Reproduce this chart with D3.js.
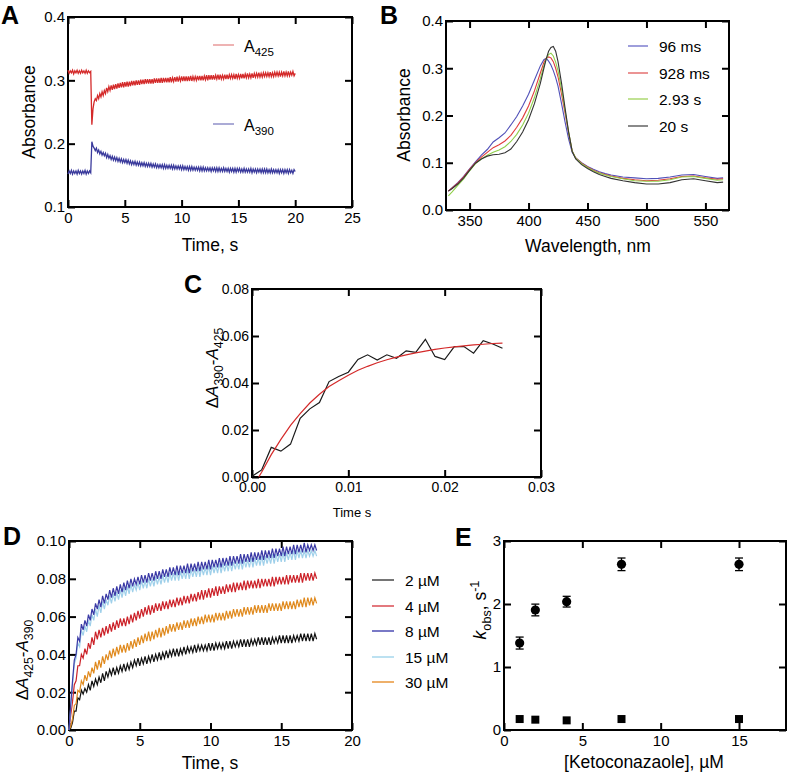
<!DOCTYPE html>
<html><head><meta charset="utf-8">
<script src="https://cdn.jsdelivr.net/npm/d3@7"></script>
<style>
body{margin:0;background:#fff}
svg{display:block}
text{font-family:"Liberation Sans",Arial,Helvetica,sans-serif;fill:#000}
</style>
</head><body>
<svg id="c" width="788" height="781"></svg>
<script>
// ---------------- DATA ----------------
// Panel A: absorbance traces, sampled every 0.1 s from 0 to 20 s
const timeA = d3.range(201).map(i => +(i * 0.1).toFixed(1));
const a425 = [
  0.316,0.311,0.315,0.312,0.316,0.310,0.315,0.312,0.316,0.311,0.315,0.311,0.316,0.312,0.315,0.311,0.316,0.311,0.315,0.312,0.314,
  0.230,0.255,0.266,
  0.271,0.268,0.276,0.271,0.279,0.274,0.282,0.276,0.284,0.279,
  0.288,0.282,0.290,0.284,0.292,0.285,0.293,0.286,0.294,0.287,
  0.295,0.288,0.296,0.289,0.297,0.289,0.297,0.290,0.298,0.290,
  0.298,0.291,0.299,0.292,0.299,0.292,0.300,0.293,0.300,0.293,
  0.301,0.294,0.301,0.294,0.302,0.295,0.302,0.295,0.302,0.295,
  0.302,0.295,0.303,0.296,0.303,0.296,0.303,0.296,0.304,0.296,
  0.304,0.297,0.304,0.297,0.304,0.297,0.305,0.297,0.304,0.298,
  0.305,0.298,0.306,0.298,0.305,0.299,0.306,0.299,0.306,0.299,
  0.306,0.299,0.306,0.299,0.307,0.299,0.306,0.300,0.306,0.300,
  0.307,0.300,0.307,0.300,0.307,0.300,0.307,0.301,0.308,0.300,
  0.308,0.301,0.308,0.301,0.308,0.301,0.308,0.302,0.309,0.301,
  0.309,0.302,0.308,0.302,0.309,0.302,0.309,0.302,0.309,0.303,
  0.309,0.303,0.309,0.302,0.310,0.303,0.309,0.303,0.310,0.303,
  0.310,0.303,0.310,0.304,0.311,0.304,0.310,0.304,0.311,0.304,
  0.311,0.305,0.311,0.305,0.312,0.305,0.311,0.305,0.312,0.306,
  0.312,0.306,0.312,0.306,0.313,0.306,0.312,0.306,0.313,0.307,
  0.313,0.307,0.313,0.306,0.313,0.307,0.314,0.307,0.313,0.307,
  0.314,0.307,0.313,0.308,0.314,0.307,0.311];
const a390 = [
  0.152,0.157,0.153,0.158,0.152,0.157,0.153,0.157,0.152,0.158,0.153,0.157,0.152,0.157,0.153,0.158,0.152,0.157,0.153,0.157,0.154,
  0.203,0.196,0.193,
  0.189,0.193,0.186,0.190,0.184,0.188,0.182,0.186,0.181,0.185,
  0.178,0.183,0.177,0.181,0.175,0.180,0.174,0.179,0.173,0.178,
  0.172,0.177,0.171,0.176,0.170,0.175,0.170,0.175,0.169,0.174,
  0.168,0.173,0.167,0.172,0.167,0.172,0.166,0.171,0.166,0.171,
  0.165,0.170,0.165,0.170,0.164,0.169,0.164,0.169,0.164,0.169,
  0.163,0.168,0.163,0.168,0.162,0.167,0.162,0.167,0.162,0.167,
  0.161,0.167,0.161,0.166,0.161,0.166,0.161,0.166,0.160,0.166,
  0.160,0.165,0.160,0.165,0.160,0.165,0.159,0.165,0.159,0.164,
  0.159,0.164,0.158,0.164,0.158,0.164,0.158,0.163,0.158,0.163,
  0.158,0.163,0.157,0.163,0.157,0.163,0.157,0.162,0.157,0.162,
  0.157,0.162,0.156,0.162,0.157,0.162,0.156,0.162,0.156,0.162,
  0.156,0.161,0.156,0.162,0.156,0.161,0.156,0.161,0.155,0.161,
  0.156,0.161,0.155,0.161,0.155,0.161,0.156,0.161,0.155,0.160,
  0.155,0.161,0.155,0.160,0.155,0.160,0.155,0.161,0.154,0.160,
  0.155,0.160,0.154,0.160,0.155,0.160,0.154,0.160,0.154,0.160,
  0.154,0.160,0.154,0.159,0.154,0.160,0.154,0.159,0.154,0.159,
  0.154,0.159,0.153,0.159,0.154,0.159,0.153,0.159,0.154,0.159,
  0.153,0.159,0.154,0.158,0.153,0.159,0.156];
const legendA = ["425", "390"];

// Panel B: spectra
const wavelength = [332,335,340,345,350,355,360,365,370,375,380,385,390,395,400,405,410,413,415,417,419,421,423,425,428,431,434,437,440,445,450,455,460,465,470,480,490,500,510,520,530,540,550,560,565];
const spec96ms = [0.040,0.047,0.058,0.071,0.087,0.102,0.116,0.128,0.144,0.153,0.163,0.180,0.198,0.220,0.245,0.275,0.305,0.318,0.321,0.315,0.307,0.295,0.280,0.262,0.225,0.186,0.150,0.122,0.110,0.100,0.092,0.086,0.081,0.077,0.074,0.070,0.068,0.066,0.067,0.070,0.074,0.075,0.071,0.067,0.068];
const spec928ms = [0.040,0.046,0.057,0.070,0.086,0.100,0.112,0.122,0.132,0.138,0.146,0.158,0.175,0.195,0.220,0.252,0.290,0.312,0.321,0.324,0.322,0.314,0.300,0.282,0.245,0.205,0.163,0.125,0.110,0.099,0.091,0.084,0.079,0.075,0.072,0.067,0.064,0.062,0.063,0.066,0.071,0.072,0.068,0.065,0.066];
const spec293s = [0.030,0.038,0.052,0.066,0.083,0.098,0.108,0.116,0.122,0.127,0.134,0.145,0.160,0.180,0.205,0.238,0.278,0.305,0.320,0.329,0.332,0.326,0.313,0.295,0.256,0.210,0.165,0.125,0.110,0.098,0.090,0.083,0.078,0.074,0.071,0.066,0.062,0.061,0.061,0.064,0.070,0.071,0.067,0.063,0.064];
const spec20s = [0.040,0.045,0.055,0.068,0.084,0.099,0.108,0.114,0.117,0.118,0.121,0.129,0.145,0.165,0.191,0.225,0.268,0.300,0.320,0.336,0.344,0.346,0.336,0.314,0.268,0.215,0.165,0.124,0.108,0.096,0.088,0.081,0.075,0.071,0.067,0.062,0.058,0.055,0.055,0.058,0.064,0.066,0.062,0.058,0.059];
const legendB = ["96 ms", "928 ms", "2.93 s", "20 s"];

// Panel C: difference trace (every 1 ms) and exponential fit
const timeC = d3.range(27).map(i => +(i * 0.001).toFixed(3));
const diffC = [0.0003,0.003,0.0126,0.011,0.014,0.025,0.029,0.0317,0.0406,0.0428,0.0446,0.050,0.052,0.0498,0.052,0.0505,0.0537,0.053,0.0586,0.0513,0.050,0.0555,0.0555,0.0527,0.058,0.0566,0.0548];
const fitTimeC = [0.0007].concat(d3.range(1, 27).map(i => +(i * 0.001).toFixed(3)));
const fitC = [0,0.002,0.0095,0.016,0.022,0.027,0.0315,0.0352,0.0385,0.041,0.0433,0.0454,0.0471,0.0486,0.0499,0.051,0.052,0.0528,0.0536,0.0543,0.0549,0.0554,0.0558,0.0562,0.0565,0.0568,0.057];

// Panel D: traces at several concentrations, every 0.125 s from 0 to 17.5 s
const timeD = d3.range(141).map(i => i * 0.125);
const d2uM = [0,
  0.001,0.004,0.010,0.010,0.017,0.016,0.021,0.019,
  0.022,0.020,0.024,0.021,0.026,0.023,0.027,0.024,
  0.028,0.025,0.030,0.026,0.031,0.028,0.032,0.029,
  0.033,0.029,0.033,0.030,0.034,0.031,0.035,0.031,
  0.035,0.032,0.036,0.033,0.037,0.034,0.038,0.034,
  0.038,0.035,0.039,0.035,0.039,0.036,0.040,0.036,
  0.040,0.037,0.041,0.037,0.041,0.038,0.042,0.038,
  0.042,0.039,0.043,0.039,0.043,0.039,0.043,0.040,
  0.044,0.040,0.044,0.041,0.044,0.041,0.045,0.041,
  0.045,0.042,0.045,0.042,0.045,0.042,0.046,0.042,
  0.046,0.042,0.046,0.043,0.046,0.043,0.046,0.043,
  0.047,0.043,0.047,0.043,0.047,0.044,0.047,0.044,
  0.048,0.044,0.048,0.044,0.048,0.044,0.048,0.045,
  0.048,0.045,0.049,0.045,0.049,0.045,0.049,0.045,
  0.049,0.045,0.049,0.046,0.049,0.046,0.050,0.046,
  0.050,0.046,0.050,0.046,0.050,0.046,0.050,0.047,
  0.050,0.047,0.051,0.047,0.051,0.047,0.051,0.047,
  0.051,0.047,0.051,0.048];
const d4uM = [0,
  0.008,0.015,0.024,0.026,0.034,0.034,0.040,0.038,
  0.043,0.040,0.046,0.043,0.049,0.045,0.052,0.048,
  0.053,0.049,0.054,0.050,0.055,0.051,0.056,0.052,
  0.057,0.053,0.058,0.054,0.059,0.055,0.059,0.055,
  0.060,0.056,0.061,0.057,0.062,0.058,0.063,0.059,
  0.064,0.060,0.065,0.061,0.066,0.061,0.066,0.062,
  0.067,0.063,0.067,0.063,0.068,0.064,0.068,0.064,
  0.069,0.065,0.069,0.065,0.070,0.066,0.070,0.066,
  0.071,0.067,0.071,0.067,0.072,0.068,0.072,0.068,
  0.073,0.069,0.074,0.069,0.074,0.070,0.075,0.070,
  0.075,0.071,0.076,0.071,0.076,0.072,0.076,0.072,
  0.077,0.073,0.077,0.073,0.078,0.073,0.078,0.074,
  0.078,0.074,0.079,0.074,0.079,0.075,0.079,0.075,
  0.079,0.075,0.080,0.075,0.080,0.076,0.080,0.076,
  0.080,0.076,0.081,0.076,0.081,0.077,0.081,0.077,
  0.081,0.077,0.082,0.077,0.082,0.078,0.082,0.078,
  0.082,0.078,0.083,0.078,0.083,0.079,0.083,0.079,
  0.083,0.079,0.083,0.080];
const d8uM = [0,
  0.014,0.026,0.037,0.040,0.049,0.047,0.056,0.053,
  0.058,0.055,0.061,0.058,0.064,0.061,0.067,0.064,
  0.069,0.065,0.071,0.067,0.072,0.069,0.074,0.070,
  0.075,0.071,0.076,0.072,0.077,0.073,0.078,0.074,
  0.079,0.075,0.080,0.076,0.080,0.077,0.081,0.077,
  0.082,0.078,0.082,0.078,0.083,0.079,0.083,0.079,
  0.084,0.080,0.084,0.080,0.085,0.081,0.085,0.081,
  0.086,0.082,0.086,0.082,0.087,0.082,0.087,0.083,
  0.087,0.083,0.088,0.083,0.088,0.084,0.088,0.084,
  0.089,0.084,0.089,0.085,0.089,0.085,0.090,0.085,
  0.090,0.086,0.090,0.086,0.091,0.086,0.091,0.087,
  0.091,0.087,0.092,0.087,0.092,0.088,0.092,0.088,
  0.093,0.088,0.093,0.089,0.093,0.089,0.094,0.089,
  0.094,0.090,0.094,0.090,0.095,0.090,0.095,0.091,
  0.095,0.091,0.096,0.091,0.096,0.092,0.096,0.092,
  0.097,0.092,0.097,0.093,0.097,0.093,0.098,0.093,
  0.098,0.094,0.098,0.094,0.099,0.094,0.098,0.095,
  0.098,0.095,0.098,0.095];
const d15uM = [0,
  0.012,0.024,0.035,0.038,0.046,0.044,0.053,0.050,
  0.055,0.052,0.058,0.055,0.061,0.058,0.064,0.060,
  0.066,0.062,0.068,0.064,0.069,0.066,0.071,0.067,
  0.072,0.068,0.073,0.069,0.074,0.070,0.075,0.071,
  0.076,0.072,0.077,0.073,0.077,0.074,0.078,0.074,
  0.079,0.075,0.079,0.075,0.080,0.076,0.080,0.076,
  0.081,0.077,0.081,0.077,0.082,0.078,0.082,0.078,
  0.083,0.079,0.083,0.079,0.084,0.079,0.084,0.080,
  0.084,0.080,0.085,0.080,0.085,0.081,0.085,0.081,
  0.086,0.081,0.086,0.082,0.086,0.082,0.087,0.082,
  0.087,0.083,0.087,0.083,0.088,0.083,0.088,0.084,
  0.088,0.084,0.089,0.084,0.089,0.085,0.089,0.085,
  0.090,0.085,0.090,0.086,0.090,0.086,0.091,0.086,
  0.091,0.087,0.091,0.087,0.092,0.087,0.092,0.088,
  0.092,0.088,0.093,0.088,0.093,0.089,0.093,0.089,
  0.094,0.089,0.094,0.090,0.094,0.090,0.095,0.090,
  0.095,0.091,0.095,0.091,0.095,0.091,0.095,0.092,
  0.095,0.092,0.095,0.092];
const d30uM = [0,
  0.002,0.006,0.013,0.014,0.021,0.020,0.026,0.024,
  0.029,0.026,0.031,0.028,0.033,0.030,0.036,0.032,
  0.037,0.033,0.039,0.035,0.040,0.037,0.042,0.038,
  0.043,0.039,0.044,0.040,0.045,0.041,0.045,0.041,
  0.046,0.042,0.047,0.043,0.048,0.044,0.049,0.045,
  0.050,0.046,0.051,0.047,0.052,0.047,0.052,0.048,
  0.053,0.049,0.054,0.049,0.054,0.050,0.055,0.051,
  0.056,0.052,0.056,0.052,0.057,0.053,0.057,0.053,
  0.058,0.054,0.058,0.054,0.059,0.055,0.059,0.055,
  0.060,0.056,0.060,0.056,0.061,0.057,0.061,0.057,
  0.061,0.057,0.062,0.058,0.062,0.058,0.062,0.058,
  0.063,0.059,0.063,0.059,0.064,0.060,0.064,0.060,
  0.064,0.060,0.065,0.061,0.065,0.061,0.065,0.061,
  0.066,0.062,0.066,0.062,0.066,0.062,0.066,0.062,
  0.067,0.063,0.067,0.063,0.067,0.063,0.067,0.063,
  0.068,0.064,0.068,0.064,0.068,0.064,0.068,0.064,
  0.069,0.065,0.069,0.065,0.070,0.065,0.070,0.066,
  0.070,0.066,0.070,0.067];
const legendD = ["2 µM", "4 µM", "8 µM", "15 µM", "30 µM"];

// Panel E: observed rate constants
const ketoConc = [1, 2, 4, 7.5, 15];
const kFast = [1.38, 1.905, 2.037, 2.63, 2.63];
const kFastErr = [0.095, 0.093, 0.085, 0.1, 0.1];
const kSlow = [0.174, 0.164, 0.153, 0.174, 0.174];

// ---------------- DRAWING ----------------
const svg = d3.select("#c");
const TK = 7;

function rich(sel, parts, size) {
  let shift = 0;
  parts.forEach(p => {
    const target = p.sub ? size * 0.28 : (p.sup ? -size * 0.4 : 0);
    const ts = sel.append("tspan").text(p.t).attr("dy", target - shift);
    shift = target;
    if (p.sub || p.sup) ts.attr("font-size", size * 0.72);
    if (p.i) ts.attr("font-style", "italic");
  });
}

function panel(o) {
  const x = d3.scaleLinear().domain(o.xd).range([o.l, o.r]);
  const y = d3.scaleLinear().domain(o.yd).range([o.b, o.t]);
  const g = svg.append("g");
  const fs = o.fs || 15;
  const style = sel => {
    sel.select(".domain").remove();
    sel.selectAll(".tick line").attr("stroke", "#000").attr("stroke-width", 2);
    sel.selectAll(".tick text").attr("font-size", fs).attr("fill", "#000")
      .attr("font-family", '"Liberation Sans",Arial,sans-serif');
  };
  g.append("g").attr("transform", `translate(0,${o.b})`)
    .call(d3.axisBottom(x).tickValues(o.xt).tickFormat(o.xf).tickSizeInner(-TK).tickSizeOuter(0).tickPadding(5))
    .call(style);
  g.append("g").attr("transform", `translate(0,${o.t})`)
    .call(d3.axisTop(x).tickValues(o.xt).tickFormat("").tickSizeInner(-TK).tickSizeOuter(0))
    .call(style);
  g.append("g").attr("transform", `translate(${o.l},0)`)
    .call(d3.axisLeft(y).tickValues(o.yt).tickFormat(o.yf).tickSizeInner(-TK).tickSizeOuter(0).tickPadding(3))
    .call(style);
  g.append("g").attr("transform", `translate(${o.r},0)`)
    .call(d3.axisRight(y).tickValues(o.yt).tickFormat("").tickSizeInner(-TK).tickSizeOuter(0))
    .call(style);
  g.append("rect").attr("x", o.l).attr("y", o.t).attr("width", o.r - o.l).attr("height", o.b - o.t)
    .attr("fill", "none").attr("stroke", "#000").attr("stroke-width", 2);
  return {x, y, g};
}

function panelLabel(t, x, y) {
  svg.append("text").attr("x", x).attr("y", y).attr("font-size", 25).attr("font-weight", "bold").text(t);
}

// ---- Panel A ----
{
  const p = panel({l: 68, r: 352, t: 17, b: 207, xd: [0, 25], yd: [0.1, 0.4],
    xt: [0, 5, 10, 15, 20, 25], yt: [0.1, 0.2, 0.3, 0.4], xf: d3.format("d"), yf: d3.format(".1f")});
  const line = d3.line().x((d, i) => p.x(timeA[i])).y(d => p.y(d));
  p.g.append("path").datum(a425).attr("d", line).attr("fill", "none").attr("stroke", "#d42a2a").attr("stroke-width", 1.3);
  p.g.append("path").datum(a390).attr("d", line).attr("fill", "none").attr("stroke", "#3a3a9c").attr("stroke-width", 1.3);
  const legCol = ["#e89a9a", "#8f8fc8"];
  const legY = [45, 124];
  legendA.forEach((s, i) => {
    svg.append("line").attr("x1", 213).attr("x2", 234).attr("y1", legY[i]).attr("y2", legY[i])
      .attr("stroke", legCol[i]).attr("stroke-width", 1.5);
    const t = svg.append("text").attr("x", 244).attr("y", legY[i] + 7).attr("font-size", 16);
    rich(t, [{t: "A"}, {t: s, sub: true}], 16);
  });
  svg.append("text").attr("transform", "translate(35,112) rotate(-90)").attr("text-anchor", "middle")
    .attr("font-size", 17.5).text("Absorbance");
  svg.append("text").attr("x", 210).attr("y", 251).attr("text-anchor", "middle").attr("font-size", 17.5).text("Time, s");
  panelLabel("A", 1, 24);
}

// ---- Panel B ----
{
  const p = panel({l: 446, r: 729, t: 21, b: 210, xd: [330, 570], yd: [0, 0.4],
    xt: [350, 400, 450, 500, 550], yt: [0, 0.1, 0.2, 0.3, 0.4], xf: d3.format("d"), yf: d3.format(".1f")});
  const line = d3.line().x((d, i) => p.x(wavelength[i])).y(d => p.y(d));
  const series = [spec96ms, spec928ms, spec293s, spec20s];
  const cols = ["#5050b8", "#e03c3c", "#8fcf4a", "#333333"];
  const legCols = ["#6a6ac8", "#e05a5a", "#9fd35a", "#8a8a8a"];
  series.forEach((s, i) => {
    p.g.append("path").datum(s).attr("d", line).attr("fill", "none").attr("stroke", cols[i]).attr("stroke-width", 1.1);
  });
  const ly = [46, 73, 99, 126];
  legendB.forEach((s, i) => {
    svg.append("line").attr("x1", 628).attr("x2", 648).attr("y1", ly[i]).attr("y2", ly[i])
      .attr("stroke", legCols[i]).attr("stroke-width", i === 3 ? 2 : 1.3);
    svg.append("text").attr("x", 659).attr("y", ly[i] + 5.5).attr("font-size", 15.5).text(s);
  });
  svg.append("text").attr("transform", "translate(410,115) rotate(-90)").attr("text-anchor", "middle")
    .attr("font-size", 17.5).text("Absorbance");
  svg.append("text").attr("x", 588).attr("y", 252).attr("text-anchor", "middle").attr("font-size", 17.5).text("Wavelength, nm");
  panelLabel("B", 380, 24);
}

// ---- Panel C ----
{
  const p = panel({l: 252, r: 541, t: 289, b: 477, xd: [0, 0.03], yd: [0, 0.08],
    xt: [0, 0.01, 0.02, 0.03], yt: [0, 0.02, 0.04, 0.06, 0.08], xf: d3.format(".2f"), yf: d3.format(".2f"), fs: 14});
  const line = d3.line().x((d, i) => p.x(timeC[i])).y(d => p.y(d));
  const fline = d3.line().x((d, i) => p.x(fitTimeC[i])).y(d => p.y(d));
  p.g.append("path").datum(diffC).attr("d", line).attr("fill", "none").attr("stroke", "#1a1a1a").attr("stroke-width", 1.2);
  p.g.append("path").datum(fitC).attr("d", fline).attr("fill", "none").attr("stroke", "#d42a2a").attr("stroke-width", 1.2);
  const t = svg.append("text").attr("transform", "translate(218,368) rotate(-90)").attr("text-anchor", "middle").attr("font-size", 17);
  rich(t, [{t: "Δ"}, {t: "A", i: true}, {t: "390", sub: true}, {t: "-"}, {t: "A", i: true}, {t: "425", sub: true}], 17);
  svg.append("text").attr("x", 352).attr("y", 517).attr("text-anchor", "middle").attr("font-size", 13).text("Time s");
  panelLabel("C", 184, 293);
}

// ---- Panel D ----
{
  const p = panel({l: 69, r: 352, t: 541, b: 730, xd: [0, 20], yd: [0, 0.1],
    xt: [0, 5, 10, 15, 20], yt: [0, 0.02, 0.04, 0.06, 0.08, 0.1], xf: d3.format("d"), yf: d3.format(".2f")});
  const line = d3.line().x((d, i) => p.x(timeD[i])).y(d => p.y(d));
  const series = [d2uM, d4uM, d8uM, d15uM, d30uM];
  const cols = ["#111111", "#cc2229", "#3a3aa6", "#9fd0ea", "#e08a1e"];
  const legCols = ["#666666", "#e06a70", "#6a6ac0", "#b5def0", "#eda85a"];
  const order = [0, 4, 1, 3, 2];
  order.forEach(i => {
    p.g.append("path").datum(series[i]).attr("d", line).attr("fill", "none").attr("stroke", cols[i]).attr("stroke-width", 1.2);
  });
  const ly = [580, 606, 631, 657, 682];
  legendD.forEach((s, i) => {
    svg.append("line").attr("x1", 372).attr("x2", 394).attr("y1", ly[i]).attr("y2", ly[i])
      .attr("stroke", legCols[i]).attr("stroke-width", 1.8);
    svg.append("text").attr("x", 405).attr("y", ly[i] + 6).attr("font-size", 15.5).text(s);
  });
  const t = svg.append("text").attr("transform", "translate(28,660) rotate(-90)").attr("text-anchor", "middle").attr("font-size", 17);
  rich(t, [{t: "Δ"}, {t: "A", i: true}, {t: "425", sub: true}, {t: "-"}, {t: "A", i: true}, {t: "390", sub: true}], 17);
  svg.append("text").attr("x", 210).attr("y", 769).attr("text-anchor", "middle").attr("font-size", 17.5).text("Time, s");
  panelLabel("D", 3, 545);
}

// ---- Panel E ----
{
  const p = panel({l: 504, r: 786, t: 541, b: 730, xd: [0, 18], yd: [0, 3],
    xt: [0, 5, 10, 15], yt: [0, 1, 2, 3], xf: d3.format("d"), yf: d3.format("d")});
  const cap = 4;
  ketoConc.forEach((c, i) => {
    const cx = p.x(c);
    const y1 = p.y(kFast[i] + kFastErr[i]), y0 = p.y(kFast[i] - kFastErr[i]);
    p.g.append("line").attr("x1", cx).attr("x2", cx).attr("y1", y1).attr("y2", y0).attr("stroke", "#000").attr("stroke-width", 1.3);
    p.g.append("line").attr("x1", cx - cap).attr("x2", cx + cap).attr("y1", y1).attr("y2", y1).attr("stroke", "#000").attr("stroke-width", 1.3);
    p.g.append("line").attr("x1", cx - cap).attr("x2", cx + cap).attr("y1", y0).attr("y2", y0).attr("stroke", "#000").attr("stroke-width", 1.3);
    p.g.append("circle").attr("cx", cx).attr("cy", p.y(kFast[i])).attr("r", 4.6).attr("fill", "#000");
    p.g.append("rect").attr("x", cx - 4).attr("y", p.y(kSlow[i]) - 4).attr("width", 8).attr("height", 8).attr("fill", "#000");
  });
  const t = svg.append("text").attr("transform", "translate(486,610) rotate(-90)").attr("text-anchor", "middle").attr("font-size", 17.5);
  rich(t, [{t: "k", i: true}, {t: "obs", sub: true}, {t: ", s"}, {t: "-1", sup: true}], 17.5);
  svg.append("text").attr("x", 644).attr("y", 768).attr("text-anchor", "middle").attr("font-size", 17.5).text("[Ketoconazaole], µM");
  panelLabel("E", 455, 546);
}
</script>
</body></html>
